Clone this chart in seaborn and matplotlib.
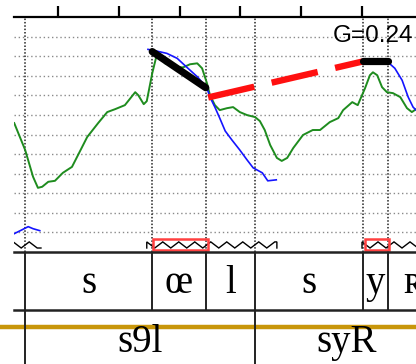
import numpy as np
import pandas as pd
import matplotlib
matplotlib.use("Agg")
import matplotlib.pyplot as plt
import matplotlib.transforms as mtransforms
import seaborn as sns

# ---------------- data ----------------
# raw F0 (green), time in s, pitch in semitones
green_t = [0.928, 0.946, 0.959, 0.967, 0.974, 0.984, 0.995, 1.008, 1.023, 1.033,
           1.048, 1.066, 1.081, 1.094, 1.110, 1.127, 1.132, 1.141, 1.146, 1.155,
           1.161, 1.166, 1.176, 1.192, 1.206, 1.217, 1.229, 1.237, 1.245, 1.250,
           1.258, 1.266, 1.278, 1.288, 1.299, 1.311, 1.324, 1.332, 1.340, 1.349,
           1.360, 1.368, 1.377, 1.387, 1.403, 1.419, 1.431, 1.447, 1.461, 1.469,
           1.484, 1.493, 1.505, 1.513, 1.518, 1.525, 1.533, 1.541, 1.551, 1.563,
           1.574, 1.582, 1.589]
green_st = [89.17, 86.41, 83.66, 82.53, 82.64, 83.15, 83.25, 84.07, 84.68, 85.90,
            87.74, 89.17, 90.30, 90.60, 91.01, 92.34, 92.03, 91.11, 91.42, 94.28,
            95.81, 96.12, 95.30, 94.89, 94.89, 95.20, 95.30, 94.79, 93.26, 92.03,
            91.01, 90.50, 90.70, 90.81, 90.30, 89.99, 89.79, 89.38, 88.46, 86.92,
            85.60, 85.29, 85.60, 86.62, 87.95, 88.46, 88.46, 89.27, 89.68, 90.50,
            91.32, 91.01, 92.75, 94.08, 94.38, 94.08, 92.85, 92.34, 92.24, 91.83,
            90.70, 90.30, 90.60]

# smoothed F0 (blue), three voiced stretches
blue1_t = [0.928, 0.938, 0.951, 0.959, 0.970]
blue1_st = [77.83, 78.14, 78.55, 78.34, 78.14]
blue2_t = [1.148, 1.164, 1.179, 1.196, 1.212, 1.230, 1.245, 1.250, 1.258, 1.266,
           1.275, 1.286, 1.299, 1.311, 1.321, 1.336, 1.345, 1.359]
blue2_st = [96.73, 96.53, 96.32, 95.81, 94.89, 93.87, 92.75, 91.83, 90.81, 89.68,
            88.36, 87.44, 86.41, 85.39, 84.58, 84.07, 83.25, 83.35]
blue3_t = [1.502, 1.543, 1.554, 1.566, 1.576, 1.584, 1.589]
blue3_st = [95.51, 95.40, 94.79, 93.56, 91.83, 90.81, 90.50]

# stylization (black) and glissando link (red)
styl1_t = [1.155, 1.243]
styl1_st = [96.5, 92.8]
styl2_t = [1.502, 1.543]
styl2_st = [95.5, 95.5]
link_t = [1.247, 1.502]
link_st = [91.8, 95.5]
glissando_label = "G=0.24"

# tiers
phone_bounds = [0.946, 1.155, 1.243, 1.324, 1.502, 1.543, 1.625]
phone_labels = ["s", "œ", "l", "s", "y", "ʀ"]
syll_bounds = [0.946, 1.324, 1.625]
syll_labels = ["s9l", "syR"]

time_ticks = [1.0, 1.1, 1.2, 1.3, 1.4, 1.5]
st_grid = [78, 80, 82, 84, 86, 88, 90, 92, 94, 96, 98]

voiced_intervals = [(0.90, 0.972), (1.146, 1.360), (1.500, 1.70)]
nuclei = [(1.156, 1.247), (1.505, 1.544)]

# ---------------- layout ----------------
W, H = 416, 364
fig = plt.figure(figsize=(W / 100, H / 100), dpi=100)
left = 14 / W
ax = fig.add_axes([left, (H - 252) / H, 1 - left, (252 - 17) / H])
ax_t = fig.add_axes([left, 0, 1 - left, (H - 252) / H])

xlim = (1 + (14 - 58) / 608, 1 + (416 - 58) / 608)
ax.set_xlim(xlim)
ax.set_ylim(75.95, 100.05)
ax_t.set_xlim(xlim)
ax_t.set_ylim(112, 0)

# pitch axes frame
for s in ["left", "right", "bottom"]:
    ax.spines[s].set_visible(False)
ax.spines["top"].set_linewidth(1.6)
ax.set_xticks(time_ticks)
ax.set_yticks([])
ax.tick_params(axis="x", top=True, bottom=False, labeltop=False, labelbottom=False,
               direction="out", length=8, width=1.6)
ax.set_facecolor("white")

for g in st_grid:
    ax.axhline(g, color="#8a8a8a", lw=1.0, ls=(0, (1, 2)), zorder=1)
for b in phone_bounds[:-1]:
    ax.axvline(b, color="#222222", lw=1.1, ls=(0, (1, 1.2)), zorder=1)

# curves
sns.lineplot(x=green_t, y=green_st, color="#1e8c1e", lw=1.4, ax=ax, zorder=3)
for bt, bs in [(blue1_t, blue1_st), (blue2_t, blue2_st), (blue3_t, blue3_st)]:
    sns.lineplot(x=bt, y=bs, color="#1414ff", lw=1.2, ax=ax, zorder=4)
sns.lineplot(x=link_t, y=link_st, color="#ff1010", lw=4.6, ax=ax, zorder=5)
ax.lines[-1].set_dashes((7.4, 2.8))
ax.lines[-1].set_solid_capstyle("butt")
ax.lines[-1].set_dash_capstyle("butt")
for st_, ss_ in [(styl1_t, styl1_st), (styl2_t, styl2_st)]:
    sns.lineplot(x=st_, y=ss_, color="black", lw=5.2, ax=ax, zorder=6)
    ax.lines[-1].set_solid_capstyle("round")

ax.text(1.518, 97.45, glissando_label, ha="center", va="baseline",
        fontsize=17.5, family=["Liberation Sans", "DejaVu Sans"], zorder=7)

# voiced zig-zag and nuclei boxes
trans = mtransforms.blended_transform_factory(ax.transData, ax.transAxes)
lo, hi = 0.017, 0.043
half = 8 / 608
for t0, t1 in voiced_intervals:
    n = int(np.floor((t1 - t0) / half))
    xs = list(t0 + half * np.arange(n + 1))
    ys = [hi if k % 2 == 0 else lo for k in range(n + 1)]
    xs = [t0] + xs + [t1, t1]
    ys = [lo] + ys + [ys[-1], lo]
    ax.plot(xs, ys, color="black", lw=1.0, transform=trans, zorder=3,
            solid_joinstyle="miter")
for n0, n1 in nuclei:
    ax.axvspan(n0, n1, ymin=0.008, ymax=0.055, fill=False, edgecolor="#ff4040",
               lw=1.8, zorder=4)

# tiers
ax_t.axis("off")
ax_t.axhline(0, color="#222222", lw=1.8, clip_on=False)
ax_t.axhline(58, color="#222222", lw=1.8, clip_on=False)
ax_t.axhline(75, xmin=-left / (1 - left), xmax=1, color="#c8960a", lw=3.2,
             clip_on=False, zorder=1)
ax_t.vlines(phone_bounds[:-1], 0, 58, color="#222222", lw=1.4, zorder=2)
ax_t.vlines(syll_bounds[:-1], 58, 112, color="#222222", lw=1.4, zorder=2)

serif = ["Liberation Serif", "DejaVu Serif"]
for i, lab in enumerate(phone_labels):
    c = (phone_bounds[i] + phone_bounds[i + 1]) / 2
    ax_t.text(c, 41, lab, ha="center", va="baseline", fontsize=28, family=serif,
              clip_on=False)
for i, lab in enumerate(syll_labels):
    c = (syll_bounds[i] + syll_bounds[i + 1]) / 2
    ax_t.text(c, 100, lab, ha="center", va="baseline", fontsize=28, family=serif,
              clip_on=False)

fig.savefig("out.png", dpi=100)
